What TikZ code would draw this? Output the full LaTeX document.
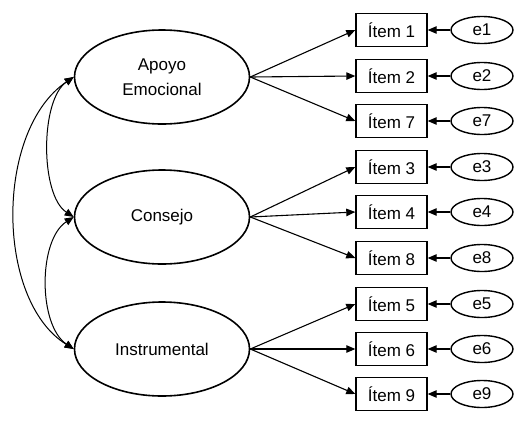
\documentclass[tikz,border=0pt]{standalone}
\usepackage{fontspec}
\setmainfont{Liberation Sans}
\usetikzlibrary{shapes.geometric,arrows.meta}
\begin{document}
\begin{tikzpicture}[x=1pt,y=-1pt,
  every node/.style={font=\fontsize{17}{25}\selectfont},
  latent/.style={draw,ellipse,line width=1.6pt,minimum width=175pt,minimum height=94pt,inner sep=0pt,align=center},
  item/.style={draw,rectangle,line width=1.4pt,minimum width=71pt,minimum height=33pt,inner sep=0pt},
  err/.style={draw,ellipse,line width=1.4pt,minimum width=62pt,minimum height=27pt,inner sep=0pt},
  load/.style={line width=1.1pt,-{Triangle[length=9pt,width=7.5pt]}},
  cov/.style={line width=1pt,{Triangle[length=9pt,width=7.5pt]}-{Triangle[length=9pt,width=7.5pt]}}]
\useasboundingbox (0,0) rectangle (523,424);
\node[latent] (A) at (162,77) {Apoyo\\Emocional};
\node[latent] (C) at (162,217) {Consejo};
\node[latent] (I) at (162,349) {Instrumental};
\foreach \n/\y in {1/30,2/76,7/121,3/167,4/212,8/258,5/304,6/349,9/394}{
  \node[item] (i\n) at (391.5,\y) {Ítem \n};
  \node[err] (e\n) at (482,\y) {e\n};
  \draw[load] (e\n.west) -- (i\n.east);
}
\foreach \n in {1,2,7}{\draw[load] (A.east) -- (i\n.west);}
\foreach \n in {3,4,8}{\draw[load] (C.east) -- (i\n.west);}
\foreach \n in {5,6,9}{\draw[load] (I.east) -- (i\n.west);}
\draw[cov] (A.west) .. controls (-5,130) and (-5,300) .. (I.west);
\draw[cov] (A.west) .. controls (40,100) and (40,195) .. (C.west);
\draw[cov] (C.west) .. controls (38,240) and (38,325) .. (I.west);
\end{tikzpicture}
\end{document}
